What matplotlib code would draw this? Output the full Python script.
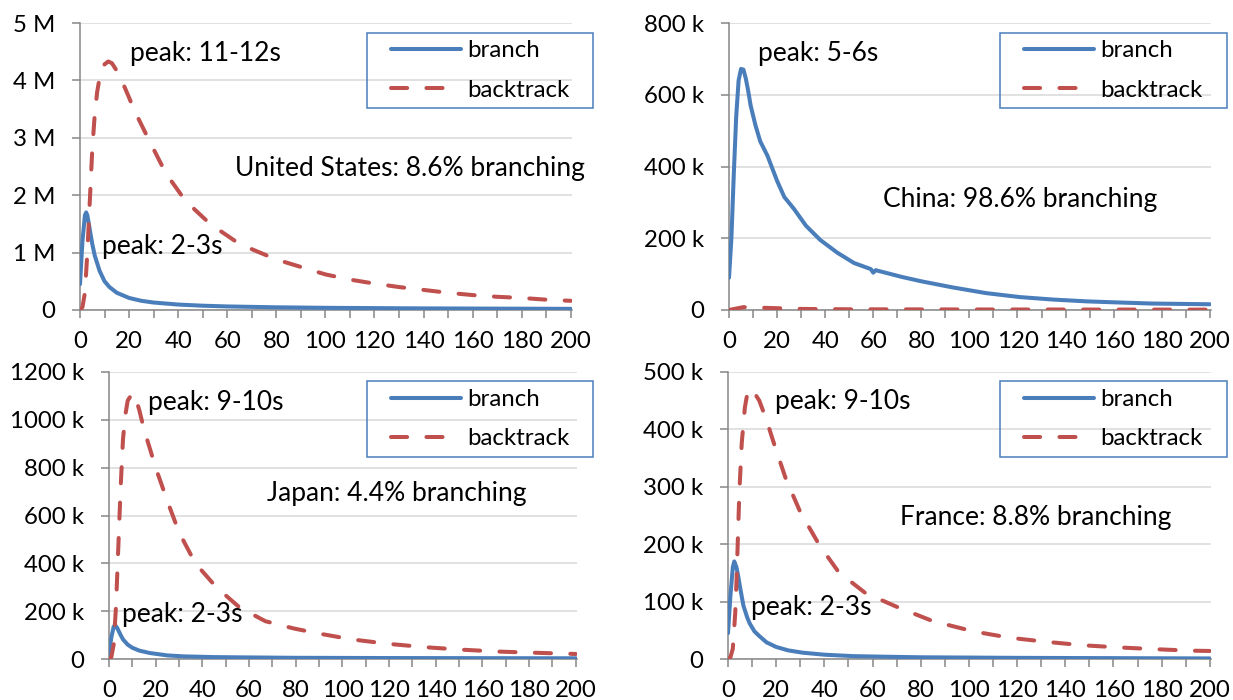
import matplotlib
matplotlib.use("Agg")
import matplotlib.pyplot as plt
from matplotlib.patches import Rectangle
from matplotlib.ticker import MultipleLocator

plt.rcParams["font.family"] = ["Lato", "DejaVu Sans"]

# ---------------- data ----------------
# United States (values in millions per second)
us_branch_t = [0, 1, 2, 2.5, 3, 4, 5, 6, 8, 10, 12, 15, 20, 25, 30, 40, 50, 60, 80, 100, 140, 200]
us_branch_v = [0.45, 1.2, 1.65, 1.7, 1.65, 1.4, 1.15, 0.95, 0.68, 0.5, 0.4, 0.3, 0.21, 0.16, 0.13,
               0.095, 0.075, 0.062, 0.047, 0.038, 0.028, 0.02]
us_back_t = [0, 1, 2, 3, 4, 5, 6, 7, 8, 10, 11.5, 13, 16, 20, 22, 28, 35, 43, 53, 65, 80, 90,
             100, 110, 120, 130, 140, 150, 160, 170, 180, 190, 200]
us_back_v = [0, 0.05, 0.3, 1.0, 1.9, 2.8, 3.4, 3.8, 4.05, 4.28, 4.33, 4.3, 4.1, 3.7, 3.49, 2.97,
             2.38, 1.9, 1.5, 1.15, 0.88, 0.75, 0.62, 0.53, 0.46, 0.4, 0.35, 0.3, 0.26, 0.23,
             0.21, 0.18, 0.16]

# China (values in thousands per second)
cn_branch_t = [0, 1, 2, 3, 4, 5, 6, 7, 8, 9, 11, 13, 16, 20, 23, 27, 32, 38, 45, 52, 59, 60, 61,
               72, 80, 93, 107, 121, 135, 149, 162, 176, 200]
cn_branch_v = [90, 200, 380, 540, 640, 672, 670, 645, 610, 570, 515, 470, 430, 360, 315, 282, 235,
               195, 160, 131, 114, 104, 111, 92, 80, 63, 47, 36, 29, 24, 21, 18, 16]
cn_back_t = [0, 3, 6, 10, 15, 20, 30, 50, 100, 200]
cn_back_v = [0, 4, 8, 7, 6, 5, 3, 2, 1.5, 1]

# Japan (values in thousands per second)
jp_branch_t = [0, 1, 2, 2.6, 3.5, 5, 6, 8, 10, 13, 17.5, 25, 32, 45, 55, 80, 120, 200]
jp_branch_v = [20, 90, 135, 142, 130, 100, 82, 60, 47, 35, 25, 15, 11, 8, 7, 5, 4, 3]
jp_back_t = [0, 1, 2, 3, 4, 5, 6, 7, 8, 10, 11, 13, 15, 20, 25, 30, 37, 46, 56, 67, 79, 89, 104,
             120, 136, 151, 167, 183, 200]
jp_back_v = [0, 8, 60, 220, 470, 720, 920, 1020, 1080, 1111, 1105, 1040, 960, 800, 660, 530, 400,
             300, 215, 158, 128, 108, 82, 63, 49, 39, 31, 26, 21]

# France (values in thousands per second)
fr_branch_t = [0, 1, 2, 2.6, 3.5, 4.3, 5, 6.4, 8, 9, 11, 13, 16, 20, 25, 31, 40, 52, 65, 80, 120,
               200]
fr_branch_v = [45, 110, 160, 170, 160, 143, 125, 93, 72, 62, 48, 40, 29, 21, 15, 11, 7.5, 5, 4,
               3, 2, 1]
fr_back_t = [0, 1, 2, 3, 3.6, 4.7, 5.7, 7, 8, 9, 10, 13, 16, 19.5, 24, 30, 38, 46, 57, 70, 85, 102,
             117, 132, 147, 163, 178, 192, 200]
fr_back_v = [0, 3, 18, 80, 143, 289, 376, 438, 462, 471, 470, 450, 416, 370, 314, 256, 198, 151,
             115, 91, 66, 48, 37, 30, 24, 20, 17, 14.5, 14]

us_yticks = [0, 1, 2, 3, 4, 5]
us_ylabels = ["0", "1 M", "2 M", "3 M", "4 M", "5 M"]
cn_yticks = [0, 200, 400, 600, 800]
cn_ylabels = ["0", "200 k", "400 k", "600 k", "800 k"]
jp_yticks = [0, 200, 400, 600, 800, 1000, 1200]
jp_ylabels = ["0", "200 k", "400 k", "600 k", "800 k", "1000 k", "1200 k"]
fr_yticks = [0, 100, 200, 300, 400, 500]
fr_ylabels = ["0", "100 k", "200 k", "300 k", "400 k", "500 k"]

series_names = ["branch", "backtrack"]

# ---------------- styling ----------------
W, H = 1233, 700
BLUE = "#4a7ebb"
RED = "#c0504d"
AXIS = "#868686"
GRID = "#d9d9d9"
FS_TICK = 17.3
FS_LEG = 17.3
FS_NOTE = 19
LW = 2.9


def fx(px):
    return px / W


def fy(py):
    return 1 - py / H


fig = plt.figure(figsize=(W / 100, H / 100), dpi=100)

panels = [
    dict(rect=(80, 23, 572, 310), bt=us_branch_t, bv=us_branch_v, kt=us_back_t, kv=us_back_v,
         yt=us_yticks, yl=us_ylabels,
         notes=[(20.3, 4.46, "peak: 11-12s"), (63, 2.46, "United States: 8.6% branching"),
                (8.9, 1.11, "peak: 2-3s")],
         leg=(367, 33, 593, 108)),
    dict(rect=(729, 23, 1211, 310), bt=cn_branch_t, bv=cn_branch_v, kt=cn_back_t, kv=cn_back_v,
         yt=cn_yticks, yl=cn_ylabels,
         notes=[(12, 716, "peak: 5-6s"), (64, 307, "China: 98.6% branching")],
         leg=(1000, 33, 1227, 108)),
    dict(rect=(109, 372, 577, 659), bt=jp_branch_t, bv=jp_branch_v, kt=jp_back_t, kv=jp_back_v,
         yt=jp_yticks, yl=jp_ylabels,
         notes=[(16.7, 1074, "peak: 9-10s"), (67.5, 690, "Japan: 4.4% branching"),
                (5.6, 184, "peak: 2-3s")],
         leg=(367, 381, 593, 457)),
    dict(rect=(728, 372, 1211, 659), bt=fr_branch_t, bv=fr_branch_v, kt=fr_back_t, kv=fr_back_v,
         yt=fr_yticks, yl=fr_ylabels,
         notes=[(19.5, 448, "peak: 9-10s"), (71.6, 246, "France: 8.8% branching"),
                (9.5, 89, "peak: 2-3s")],
         leg=(1000, 381, 1227, 457)),
]

for p in panels:
    l, t, r, b = p["rect"]
    ax = fig.add_axes([fx(l), fy(b), (r - l) / W, (b - t) / H])
    ax.plot(p["bt"], p["bv"], color=BLUE, lw=LW, solid_capstyle="round",
            solid_joinstyle="round", label=series_names[0], zorder=3)
    ax.plot(p["kt"], p["kv"], color=RED, lw=LW, dashes=(4, 4.8), dash_capstyle="round",
            label=series_names[1], zorder=4)

    ax.set_xlim(0, 200.5)
    ax.set_ylim(p["yt"][0], p["yt"][-1])
    ax.set_yticks(p["yt"])
    ax.set_yticklabels(p["yl"])
    ax.xaxis.set_major_locator(MultipleLocator(20))
    ax.xaxis.set_minor_locator(MultipleLocator(10))

    for s in ("top", "right"):
        ax.spines[s].set_visible(False)
    for s in ("left", "bottom"):
        ax.spines[s].set_color(AXIS)
        ax.spines[s].set_linewidth(1.1)
    ax.tick_params(axis="y", which="both", direction="out", length=5.8, width=1.1,
                   color=AXIS, labelsize=FS_TICK, pad=12)
    ax.tick_params(axis="x", which="both", direction="out", length=5.8, width=1.1,
                   color=AXIS, labelsize=FS_TICK, pad=9)
    ax.grid(axis="y", color=GRID, lw=1.1, zorder=0)
    ax.set_axisbelow(True)

    for xv, yv, txt in p["notes"]:
        ax.text(xv, yv, txt, fontsize=FS_NOTE, ha="left", va="center", zorder=5)

    # legend framed by a plain blue box
    lx0, ly0, lx1, ly1 = p["leg"]
    fig.add_artist(Rectangle((fx(lx0), fy(ly1)), (lx1 - lx0) / W, (ly1 - ly0) / H,
                             transform=fig.transFigure, fill=False, edgecolor=BLUE,
                             lw=1.1, zorder=10))
    ax.legend(loc="center left", bbox_to_anchor=(fx(lx0 + 24), fy((ly0 + ly1) / 2)),
              bbox_transform=fig.transFigure, frameon=False, fontsize=FS_LEG, borderpad=0,
              borderaxespad=0, handlelength=2.91, handletextpad=0.25, labelspacing=0.75)

fig.savefig("out.png", dpi=100)
